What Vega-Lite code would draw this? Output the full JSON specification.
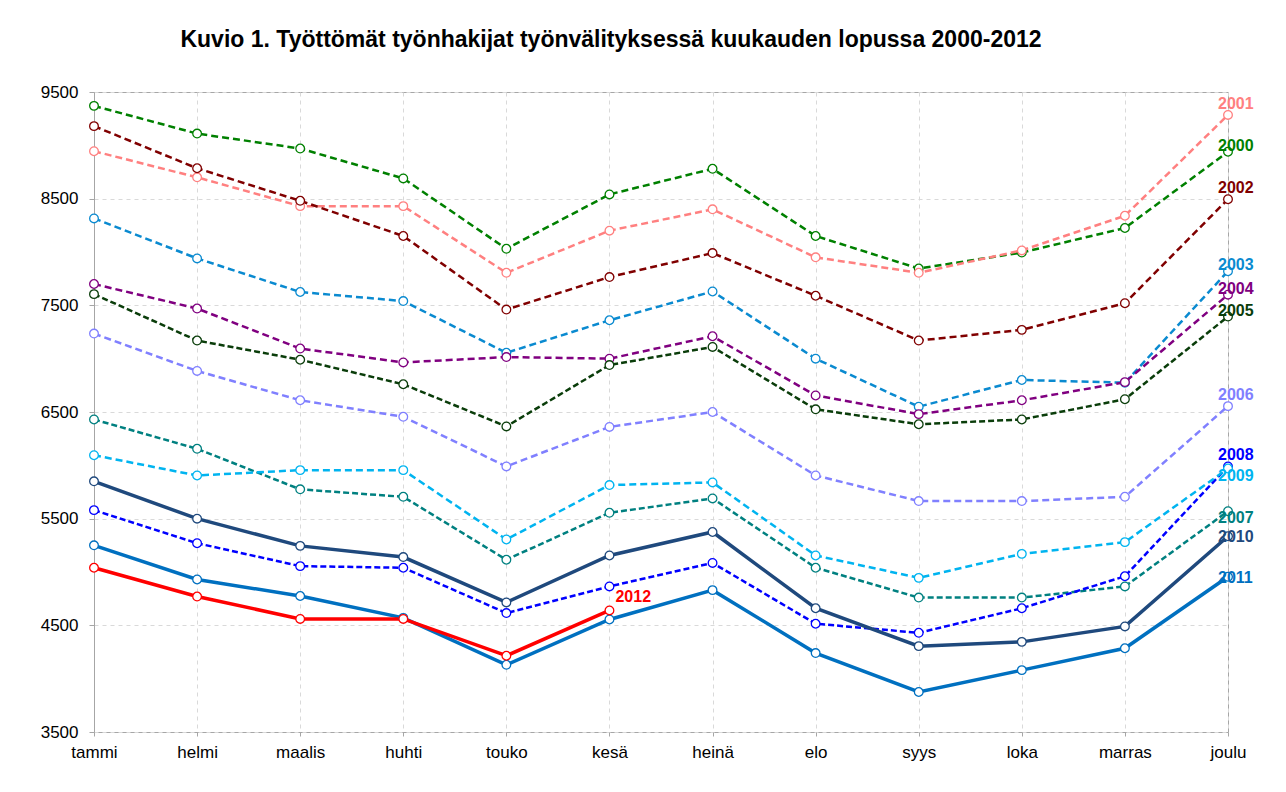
{
  "$schema": "https://vega.github.io/schema/vega-lite/v6.json",
  "width": 1134,
  "height": 640,
  "autosize": {"type": "none"},
  "padding": {"left": 94, "top": 92, "right": 58, "bottom": 60},
  "background": "white",
  "title": {
    "text": "Kuvio 1. Työttömät työnhakijat työnvälityksessä kuukauden lopussa 2000-2012",
    "font": "Liberation Sans",
    "fontSize": 23,
    "fontWeight": "bold",
    "color": "black",
    "anchor": "middle",
    "frame": "group",
    "dx": -50,
    "offset": 31
  },
  "config": {
    "font": "Liberation Sans",
    "view": {"stroke": "#a6a6a6", "strokeWidth": 1},
    "axis": {
      "labelFont": "Liberation Sans",
      "labelFontSize": 17,
      "labelColor": "black",
      "grid": true,
      "gridColor": "#d9d9d9",
      "gridDash": [4, 4],
      "gridWidth": 1,
      "tickColor": "#a6a6a6",
      "domainColor": "#a6a6a6"
    }
  },
  "data": {
    "values": [
      {"year": "2000", "month": "tammi", "value": 9370},
      {"year": "2000", "month": "helmi", "value": 9110},
      {"year": "2000", "month": "maalis", "value": 8970},
      {"year": "2000", "month": "huhti", "value": 8690},
      {"year": "2000", "month": "touko", "value": 8030},
      {"year": "2000", "month": "kesä", "value": 8540},
      {"year": "2000", "month": "heinä", "value": 8780},
      {"year": "2000", "month": "elo", "value": 8150},
      {"year": "2000", "month": "syys", "value": 7845},
      {"year": "2000", "month": "loka", "value": 7995},
      {"year": "2000", "month": "marras", "value": 8225},
      {"year": "2000", "month": "joulu", "value": 8940},
      {"year": "2001", "month": "tammi", "value": 8945},
      {"year": "2001", "month": "helmi", "value": 8700},
      {"year": "2001", "month": "maalis", "value": 8430},
      {"year": "2001", "month": "huhti", "value": 8430},
      {"year": "2001", "month": "touko", "value": 7805},
      {"year": "2001", "month": "kesä", "value": 8200},
      {"year": "2001", "month": "heinä", "value": 8400},
      {"year": "2001", "month": "elo", "value": 7950},
      {"year": "2001", "month": "syys", "value": 7805},
      {"year": "2001", "month": "loka", "value": 8015},
      {"year": "2001", "month": "marras", "value": 8340},
      {"year": "2001", "month": "joulu", "value": 9285},
      {"year": "2002", "month": "tammi", "value": 9180},
      {"year": "2002", "month": "helmi", "value": 8785},
      {"year": "2002", "month": "maalis", "value": 8480},
      {"year": "2002", "month": "huhti", "value": 8150},
      {"year": "2002", "month": "touko", "value": 7460},
      {"year": "2002", "month": "kesä", "value": 7765},
      {"year": "2002", "month": "heinä", "value": 7990},
      {"year": "2002", "month": "elo", "value": 7590},
      {"year": "2002", "month": "syys", "value": 7170},
      {"year": "2002", "month": "loka", "value": 7270},
      {"year": "2002", "month": "marras", "value": 7520},
      {"year": "2002", "month": "joulu", "value": 8495},
      {"year": "2003", "month": "tammi", "value": 8315},
      {"year": "2003", "month": "helmi", "value": 7940},
      {"year": "2003", "month": "maalis", "value": 7625},
      {"year": "2003", "month": "huhti", "value": 7540},
      {"year": "2003", "month": "touko", "value": 7055},
      {"year": "2003", "month": "kesä", "value": 7360},
      {"year": "2003", "month": "heinä", "value": 7630},
      {"year": "2003", "month": "elo", "value": 7000},
      {"year": "2003", "month": "syys", "value": 6550},
      {"year": "2003", "month": "loka", "value": 6800},
      {"year": "2003", "month": "marras", "value": 6775},
      {"year": "2003", "month": "joulu", "value": 7820},
      {"year": "2004", "month": "tammi", "value": 7700},
      {"year": "2004", "month": "helmi", "value": 7470},
      {"year": "2004", "month": "maalis", "value": 7095},
      {"year": "2004", "month": "huhti", "value": 6965},
      {"year": "2004", "month": "touko", "value": 7015},
      {"year": "2004", "month": "kesä", "value": 7000},
      {"year": "2004", "month": "heinä", "value": 7210},
      {"year": "2004", "month": "elo", "value": 6655},
      {"year": "2004", "month": "syys", "value": 6480},
      {"year": "2004", "month": "loka", "value": 6610},
      {"year": "2004", "month": "marras", "value": 6780},
      {"year": "2004", "month": "joulu", "value": 7600},
      {"year": "2005", "month": "tammi", "value": 7605},
      {"year": "2005", "month": "helmi", "value": 7170},
      {"year": "2005", "month": "maalis", "value": 6990},
      {"year": "2005", "month": "huhti", "value": 6760},
      {"year": "2005", "month": "touko", "value": 6365},
      {"year": "2005", "month": "kesä", "value": 6940},
      {"year": "2005", "month": "heinä", "value": 7110},
      {"year": "2005", "month": "elo", "value": 6525},
      {"year": "2005", "month": "syys", "value": 6385},
      {"year": "2005", "month": "loka", "value": 6430},
      {"year": "2005", "month": "marras", "value": 6620},
      {"year": "2005", "month": "joulu", "value": 7395},
      {"year": "2006", "month": "tammi", "value": 7235},
      {"year": "2006", "month": "helmi", "value": 6885},
      {"year": "2006", "month": "maalis", "value": 6610},
      {"year": "2006", "month": "huhti", "value": 6455},
      {"year": "2006", "month": "touko", "value": 5990},
      {"year": "2006", "month": "kesä", "value": 6360},
      {"year": "2006", "month": "heinä", "value": 6500},
      {"year": "2006", "month": "elo", "value": 5905},
      {"year": "2006", "month": "syys", "value": 5665},
      {"year": "2006", "month": "loka", "value": 5665},
      {"year": "2006", "month": "marras", "value": 5705},
      {"year": "2006", "month": "joulu", "value": 6555},
      {"year": "2007", "month": "tammi", "value": 6430},
      {"year": "2007", "month": "helmi", "value": 6155},
      {"year": "2007", "month": "maalis", "value": 5775},
      {"year": "2007", "month": "huhti", "value": 5705},
      {"year": "2007", "month": "touko", "value": 5115},
      {"year": "2007", "month": "kesä", "value": 5555},
      {"year": "2007", "month": "heinä", "value": 5690},
      {"year": "2007", "month": "elo", "value": 5040},
      {"year": "2007", "month": "syys", "value": 4760},
      {"year": "2007", "month": "loka", "value": 4760},
      {"year": "2007", "month": "marras", "value": 4865},
      {"year": "2007", "month": "joulu", "value": 5570},
      {"year": "2008", "month": "tammi", "value": 5580},
      {"year": "2008", "month": "helmi", "value": 5270},
      {"year": "2008", "month": "maalis", "value": 5055},
      {"year": "2008", "month": "huhti", "value": 5040},
      {"year": "2008", "month": "touko", "value": 4615},
      {"year": "2008", "month": "kesä", "value": 4865},
      {"year": "2008", "month": "heinä", "value": 5085},
      {"year": "2008", "month": "elo", "value": 4515},
      {"year": "2008", "month": "syys", "value": 4430},
      {"year": "2008", "month": "loka", "value": 4660},
      {"year": "2008", "month": "marras", "value": 4960},
      {"year": "2008", "month": "joulu", "value": 5990},
      {"year": "2009", "month": "tammi", "value": 6095},
      {"year": "2009", "month": "helmi", "value": 5905},
      {"year": "2009", "month": "maalis", "value": 5955},
      {"year": "2009", "month": "huhti", "value": 5955},
      {"year": "2009", "month": "touko", "value": 5305},
      {"year": "2009", "month": "kesä", "value": 5815},
      {"year": "2009", "month": "heinä", "value": 5840},
      {"year": "2009", "month": "elo", "value": 5155},
      {"year": "2009", "month": "syys", "value": 4945},
      {"year": "2009", "month": "loka", "value": 5170},
      {"year": "2009", "month": "marras", "value": 5280},
      {"year": "2009", "month": "joulu", "value": 5970},
      {"year": "2010", "month": "tammi", "value": 5850},
      {"year": "2010", "month": "helmi", "value": 5500},
      {"year": "2010", "month": "maalis", "value": 5245},
      {"year": "2010", "month": "huhti", "value": 5140},
      {"year": "2010", "month": "touko", "value": 4715},
      {"year": "2010", "month": "kesä", "value": 5155},
      {"year": "2010", "month": "heinä", "value": 5375},
      {"year": "2010", "month": "elo", "value": 4660},
      {"year": "2010", "month": "syys", "value": 4305},
      {"year": "2010", "month": "loka", "value": 4345},
      {"year": "2010", "month": "marras", "value": 4490},
      {"year": "2010", "month": "joulu", "value": 5335},
      {"year": "2011", "month": "tammi", "value": 5250},
      {"year": "2011", "month": "helmi", "value": 4930},
      {"year": "2011", "month": "maalis", "value": 4775},
      {"year": "2011", "month": "huhti", "value": 4570},
      {"year": "2011", "month": "touko", "value": 4130},
      {"year": "2011", "month": "kesä", "value": 4555},
      {"year": "2011", "month": "heinä", "value": 4830},
      {"year": "2011", "month": "elo", "value": 4240},
      {"year": "2011", "month": "syys", "value": 3875},
      {"year": "2011", "month": "loka", "value": 4080},
      {"year": "2011", "month": "marras", "value": 4285},
      {"year": "2011", "month": "joulu", "value": 4955},
      {"year": "2012", "month": "tammi", "value": 5040},
      {"year": "2012", "month": "helmi", "value": 4770},
      {"year": "2012", "month": "maalis", "value": 4560},
      {"year": "2012", "month": "huhti", "value": 4560},
      {"year": "2012", "month": "touko", "value": 4215},
      {"year": "2012", "month": "kesä", "value": 4640}
    ]
  },
  "encoding": {
    "x": {
      "field": "month",
      "type": "ordinal",
      "sort": null,
      "title": null,
      "scale": {"type": "point", "padding": 0, "domain": ["tammi", "helmi", "maalis", "huhti", "touko", "kesä", "heinä", "elo", "syys", "loka", "marras", "joulu"]},
      "axis": {"labelAngle": 0, "domain": false, "tickSize": 4, "labelPadding": 8, "labelFontSize": 17, "labelFont": "Liberation Sans", "labelColor": "black"}
    },
    "y": {
      "field": "value",
      "type": "quantitative",
      "title": null,
      "scale": {"domain": [3500, 9500], "nice": false, "zero": false},
      "axis": {"values": [3500, 4500, 5500, 6500, 7500, 8500, 9500], "format": "d", "domain": true, "tickSize": 5, "labelPadding": 11, "labelFontSize": 17, "labelFont": "Liberation Sans", "labelColor": "black"}
    }
  },
  "layer": [
    {
      "transform": [{"filter": {"field": "year", "oneOf": ["2000", "2001", "2002", "2003", "2004", "2005", "2006", "2007", "2008", "2009"]}}],
      "mark": {"type": "line", "strokeWidth": 2.5},
      "encoding": {
        "color": {"field": "year", "type": "nominal", "legend": null,
          "scale": {"domain": ["2000", "2001", "2002", "2003", "2004", "2005", "2006", "2007", "2008", "2009", "2010", "2011", "2012"],
                    "range": ["#008000", "#ff8080", "#800000", "#0a8ad0", "#800080", "#0a3d0a", "#8080ff", "#008080", "#0000ff", "#00b4f0", "#1f497d", "#0070c0", "#ff0000"]}},
        "strokeDash": {"field": "year", "type": "nominal", "legend": null,
          "scale": {"domain": ["2000", "2001", "2002", "2003", "2004", "2005", "2006", "2007", "2008", "2009"],
                    "range": [[7, 4], [7, 4], [7, 4], [7, 4], [7, 4], [6, 3], [7, 4], [6, 3], [6, 3], [7, 4]]}}
      }
    },
    {
      "transform": [{"filter": {"field": "year", "oneOf": ["2010", "2011", "2012"]}}],
      "mark": {"type": "line", "strokeWidth": 3.5},
      "encoding": {
        "color": {"field": "year", "type": "nominal", "legend": null,
          "scale": {"domain": ["2000", "2001", "2002", "2003", "2004", "2005", "2006", "2007", "2008", "2009", "2010", "2011", "2012"],
                    "range": ["#008000", "#ff8080", "#800000", "#0a8ad0", "#800080", "#0a3d0a", "#8080ff", "#008080", "#0000ff", "#00b4f0", "#1f497d", "#0070c0", "#ff0000"]}}
      }
    },
    {
      "mark": {"type": "point", "shape": "circle", "filled": false, "fill": "white", "fillOpacity": 1, "opacity": 1, "size": 75, "strokeWidth": 1.3},
      "encoding": {
        "stroke": {"field": "year", "type": "nominal", "legend": null,
          "scale": {"domain": ["2000", "2001", "2002", "2003", "2004", "2005", "2006", "2007", "2008", "2009", "2010", "2011", "2012"],
                    "range": ["#008000", "#ff8080", "#800000", "#0a8ad0", "#800080", "#0a3d0a", "#8080ff", "#008080", "#0000ff", "#00b4f0", "#1f497d", "#0070c0", "#ff0000"]}}
      }
    },
    {
      "transform": [{"filter": {"field": "month", "equal": "joulu"}}, {"filter": {"field": "year", "oneOf": ["2001", "2002", "2006", "2008"]}}],
      "mark": {"type": "text", "align": "left", "baseline": "middle", "dx": -10, "dy": -11, "fontSize": 16, "fontWeight": "bold", "font": "Liberation Sans"},
      "encoding": {"text": {"field": "year"}, "color": {"field": "year", "type": "nominal", "legend": null}}
    },
    {
      "transform": [{"filter": {"field": "month", "equal": "joulu"}}, {"filter": {"field": "year", "oneOf": ["2000", "2003", "2004", "2005"]}}],
      "mark": {"type": "text", "align": "left", "baseline": "middle", "dx": -10, "dy": -6, "fontSize": 16, "fontWeight": "bold", "font": "Liberation Sans"},
      "encoding": {"text": {"field": "year"}, "color": {"field": "year", "type": "nominal", "legend": null}}
    },
    {
      "transform": [{"filter": {"field": "month", "equal": "joulu"}}, {"filter": {"field": "year", "oneOf": ["2010", "2011"]}}],
      "mark": {"type": "text", "align": "left", "baseline": "middle", "dx": -10, "dy": 1, "fontSize": 16, "fontWeight": "bold", "font": "Liberation Sans"},
      "encoding": {"text": {"field": "year"}, "color": {"field": "year", "type": "nominal", "legend": null}}
    },
    {
      "transform": [{"filter": {"field": "month", "equal": "joulu"}}, {"filter": {"field": "year", "oneOf": ["2007", "2009"]}}],
      "mark": {"type": "text", "align": "left", "baseline": "middle", "dx": -10, "dy": 7, "fontSize": 16, "fontWeight": "bold", "font": "Liberation Sans"},
      "encoding": {"text": {"field": "year"}, "color": {"field": "year", "type": "nominal", "legend": null}}
    },
    {
      "transform": [{"filter": {"field": "month", "equal": "kesä"}}, {"filter": {"field": "year", "equal": "2012"}}],
      "mark": {"type": "text", "align": "left", "baseline": "middle", "dx": 6, "dy": -13, "fontSize": 16, "fontWeight": "bold", "font": "Liberation Sans"},
      "encoding": {"text": {"field": "year"}, "color": {"field": "year", "type": "nominal", "legend": null}}
    }
  ]
}
